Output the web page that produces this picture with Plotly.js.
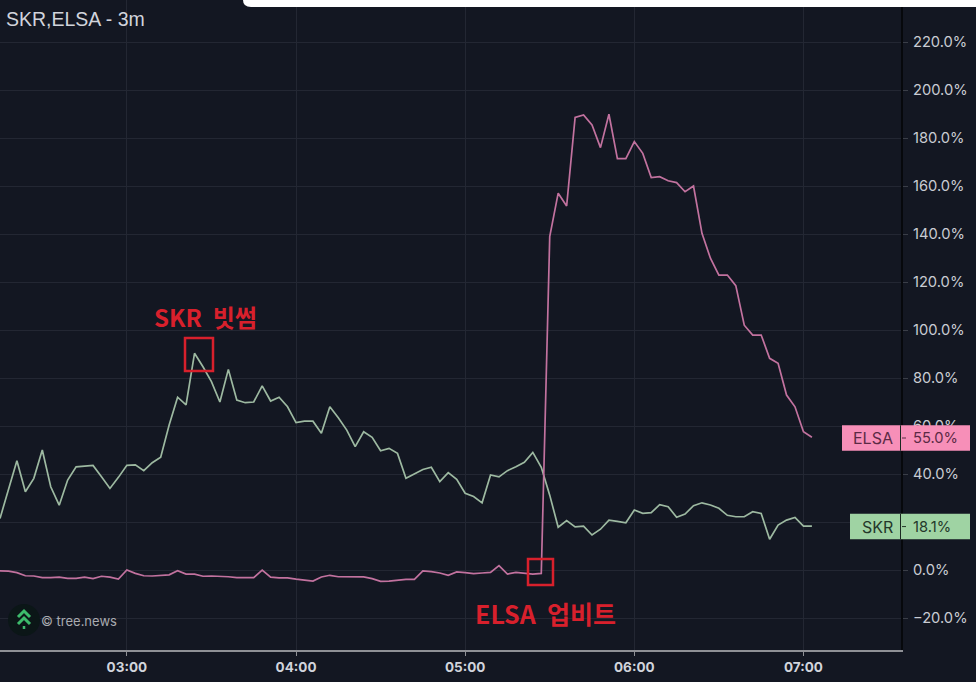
<!DOCTYPE html>
<html>
<head>
<meta charset="utf-8">
<script src="https://cdn.plot.ly/plotly-3.0.1.min.js"></script>
<style>html,body{margin:0;padding:0;background:#131722;overflow:hidden}#chart{width:976px;height:682px}</style>
</head>
<body>
<div id="chart"></div>
<script>
const startTime = '2024-01-01T02:15:00';
const stepMinutes = 3;
const skrValues = [21.5,33.3,45.5,32.6,38.2,50,34.7,27,37.5,43,43.3,43.6,38.9,34,38.6,43.6,43.8,41.4,44.7,47,60.4,72,68.8,90.3,84.7,78.5,70,83.6,70.8,69.7,70,76.7,70.4,72,68,61.4,62,62,57,68,63.4,58.3,51.4,57.6,55.3,49.7,50.7,48.6,38.2,40.1,41.9,42.8,36.8,40.6,37.8,32,30.6,28,39.6,38.8,41.4,43,44.9,49,42.8,31.2,17.8,20.6,18,18.3,14.6,17,20.8,20.3,19.7,25,23.6,23.9,27.2,26.4,22,23.3,26.8,28,27.1,25.7,22.8,22.2,22.2,24.3,23.6,12.8,18.75,20.8,21.9,18.3,18.3];
const elsaValues = [-0.4,-0.5,-1.1,-2.4,-2.5,-3.2,-3.2,-3,-3.5,-3.5,-3,-3.6,-2.6,-3,-3.8,0,-1.4,-2.4,-2.5,-2.4,-2,-0.3,-1.7,-1.7,-2.6,-2.5,-2.5,-2.8,-3.2,-3.2,-3.2,0,-3,-3.3,-3.3,-3.8,-4.2,-4.6,-2.9,-2.2,-2.8,-2.9,-2.9,-2.9,-3.6,-4.7,-4.6,-4.2,-3.9,-3.9,-0.4,-0.7,-1.25,-2.2,-0.8,-1.1,-1.5,-1.25,-1,1.8,-1.7,-1,-1.25,-1.7,-1.4,138.9,157,151.7,188.6,189.6,185.4,176,189.9,171.4,171.4,178.5,173.6,163.5,163.9,162.2,161.4,157.6,160,140.3,129.9,122.9,122.9,118.5,102,97.9,97.9,88.2,86.1,72.9,68,57.6,55.3];
const seriesNames = ['SKR','ELSA'];
const lastValues = [18.1, 55.0];
const lineColors = ['#9db9a1','#c2729f'];
const labelColors = ['#9fd3a3','#f78fb8'];
const labelTextColors = ['#24382a','#5c2a45'];
const chartTitle = 'SKR,ELSA - 3m';
const notes = ['SKR\u00a0\u00a0빗썸','ELSA\u00a0\u00a0업비트'];

const t0 = new Date(startTime).getTime();
const pad = n => String(n).padStart(2,'0');
const times = skrValues.map((_, i) => {
  const d = new Date(t0 + i * stepMinutes * 60000);
  return `2024-01-01 ${pad(d.getHours())}:${pad(d.getMinutes())}:00`;
});

const W = 901, H = 650;
const px = x => x / W;
const py = y => 1 - y / H;
const paper = {xref:'paper', yref:'paper'};
const rect = (x0,y0,x1,y1,extra) => Object.assign({type:'rect', x0:px(x0), x1:px(x1), y0:py(y0), y1:py(y1)}, paper, extra);
const path = (pts, extra) => Object.assign({type:'path',
  path: pts.map((p,i)=>(i?'L':'M')+px(p[0])+','+py(p[1])).join(' ')}, paper, extra);

const red = '#d8202c';
const redLine = {color:red, width:2.5};
const green = '#3dbb6c';
const shapes = [
  Object.assign({type:'path', path:`M${px(243)},${py(0)} L${px(976)},${py(0)} L${px(976)},${py(7)} L${px(251)},${py(7)} Q${px(243)},${py(7)} ${px(243)},${py(0)} Z`, fillcolor:'#ffffff', line:{width:0}}, paper),
  rect(185,338,213,371,{line:redLine}),
  rect(528,559,553,585,{line:redLine}),
  Object.assign({type:'circle', x0:px(8), x1:px(40), y0:py(604), y1:py(636), fillcolor:'#0b1617', line:{width:0}}, paper),
  path([[18,617],[24,611],[30,617]],{line:{color:green,width:3}}),
  path([[18,624],[24,618],[30,624]],{line:{color:green,width:3}}),
  path([[24,626],[24,629]],{line:{color:green,width:2.5}})
];
const annotations = [
  {text:chartTitle, x:px(4), y:py(19), xanchor:'left', yanchor:'middle', showarrow:false,
   font:{family:'Liberation Sans', size:19.5, color:'#d1d4dc'}},
  {text:'© tree.news', x:px(39), y:py(620.5), xanchor:'left', yanchor:'middle', showarrow:false,
   font:{family:'Inter', size:13, color:'#a9abb0'}},
  {text:notes[0], x:px(205), y:py(316), xanchor:'center', yanchor:'middle', showarrow:false,
   font:{family:'Noto Sans CJK KR', size:24, color:red, weight:700}},
  {text:notes[1], x:px(545), y:py(613), xanchor:'center', yanchor:'middle', showarrow:false,
   font:{family:'Noto Sans CJK KR', size:25, color:red, weight:700}}
].map(a => Object.assign(a, paper));

const boxLeft = [850, 842], nameCenter = [877, 872.5];
seriesNames.forEach((name, i) => {
  const v = lastValues[i];
  shapes.push({type:'rect', xref:'paper', yref:'y', x0:px(boxLeft[i]), x1:px(970), y0:v-5.3, y1:v+5.3,
    fillcolor:labelColors[i], line:{width:0}});
  shapes.push({type:'line', xref:'paper', yref:'y', x0:px(900.5), x1:px(900.5), y0:v-5.3, y1:v+5.3,
    line:{color:'#1b2a22', width:1}});
  shapes.push({type:'line', xref:'paper', yref:'y', x0:px(902), x1:px(906), y0:v, y1:v,
    line:{color:labelTextColors[i], width:1}});
  annotations.push({text:name, xref:'paper', yref:'y', x:px(nameCenter[i]), y:v, xanchor:'center', yanchor:'middle',
    showarrow:false, font:{family:'Inter', size:16, color:labelTextColors[i]}});
  annotations.push({text:v.toFixed(1)+'%', xref:'paper', yref:'y', x:px(911), y:v, xanchor:'left', yanchor:'middle',
    showarrow:false, font:{family:'Inter', size:14.7, color:labelTextColors[i]}});
});

const traces = [skrValues, elsaValues].map((vals, i) => ({
  x: times, y: vals, name: seriesNames[i], type:'scatter', mode:'lines',
  line:{color:lineColors[i], width:1.7, shape:'linear'}, hoverinfo:'skip'
}));

const layout = {
  width:976, height:682,
  margin:{l:0, r:75, t:0, b:32},
  paper_bgcolor:'#131722', plot_bgcolor:'#131722',
  showlegend:false,
  xaxis:{
    type:'date',
    range:['2024-01-01 02:15:00','2024-01-01 07:34:36'],
    tick0:'2024-01-01 03:00:00', dtick:3600000, tickformat:'%H:%M',
    showgrid:true, gridcolor:'#232733', gridwidth:1, zeroline:false,
    showline:true, linecolor:'#8f9196', linewidth:2,
    ticks:'outside', ticklen:4, tickcolor:'#8f9196', tickwidth:1,
    tickfont:{family:'Inter', size:13.5, color:'#d1d4dc', weight:700}
  },
  yaxis:{
    side:'right', range:[-33.33,237.5], tick0:0, dtick:20,
    tickformat:'.1f', ticksuffix:'%',
    showgrid:true, gridcolor:'#232733', gridwidth:1, zeroline:false,
    showline:true, linecolor:'#06080c', linewidth:2,
    ticks:'outside', ticklen:5, tickcolor:'#3a3e48', tickwidth:1, ticklabelstandoff:2,
    tickfont:{family:'Inter', size:14.7, color:'#c9ccd3'}
  },
  shapes, annotations
};
Plotly.newPlot('chart', traces, layout, {displayModeBar:false, staticPlot:true});
</script>
</body>
</html>
